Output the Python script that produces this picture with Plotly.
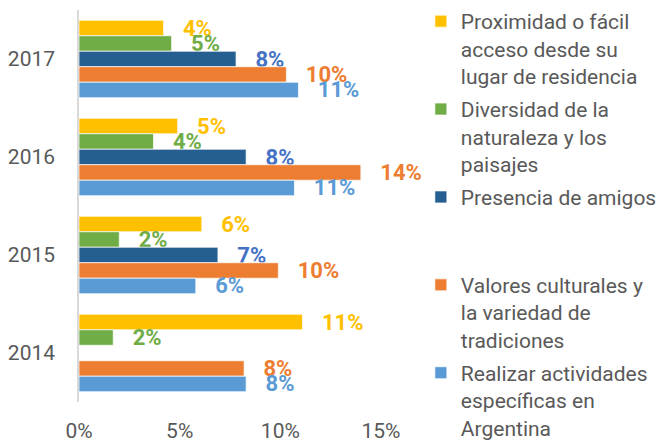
import plotly.graph_objects as go

years = ["2017", "2016", "2015", "2014"]

series_names = [
    "Proximidad o fácil<br>acceso desde su<br>lugar de residencia",
    "Diversidad de la<br>naturaleza y los<br>paisajes",
    "Presencia de amigos<br>\u00a0<br>\u00a0",
    "Valores culturales y<br>la variedad de<br>tradiciones",
    "Realizar actividades<br>específicas en<br>Argentina",
]

proximidad = [0.042, 0.049, 0.061, 0.111]
diversidad = [0.046, 0.037, 0.020, 0.017]
amigos = [0.078, 0.083, 0.069, None]
valores = [0.103, 0.140, 0.099, 0.082]
actividades = [0.109, 0.107, 0.058, 0.083]

bar_colors = ["#FFC000", "#70AD47", "#255E91", "#ED7D31", "#5B9BD5"]
label_colors = ["#FFC000", "#70AD47", "#4472C4", "#ED7D31", "#5B9BD5"]

values = [proximidad, diversidad, amigos, valores, actividades]

fig = go.Figure()
for i in range(5):
    vals = values[i]
    texts = ["" if v is None else "\u00a0\u00a0\u00a0%d%%" % round(v * 100) for v in vals]
    fig.add_trace(go.Bar(
        y=years, x=vals, orientation="h", name=series_names[i],
        legendgroup="g%d" % i,
        marker=dict(color=bar_colors[i], line=dict(color="white", width=0.7)),
        text=texts, textposition="outside", constraintext="none",
        textfont=dict(family="Roboto", size=22, color=label_colors[i], weight="bold"),
        cliponaxis=False,
    ))

# page body has an 8px margin: figure is 656x436 so it fits the 664x444 window
fig.update_layout(
    width=656, height=436,
    margin=dict(l=71, r=283, t=2, b=42, autoexpand=False),
    paper_bgcolor="white", plot_bgcolor="white",
    barmode="group", bargap=0.21, bargroupgap=0,
    font=dict(family="Roboto", size=21, color="#595959"),
    showlegend=True,
    legend=dict(
        x=1.132, xanchor="left", y=1.023, yanchor="top",
        traceorder="grouped", valign="top",
        font=dict(family="Roboto", size=21, color="#595959"),
        bgcolor="rgba(0,0,0,0)", tracegroupgap=3,
        maxheight=700,
    ),
    xaxis=dict(
        range=[0, 0.15], tickvals=[0, 0.05, 0.10, 0.15],
        ticktext=["0%", "5%", "10%", "15%"],
        showgrid=False, zeroline=False, showline=False,
        ticks="", ticklabelstandoff=14,
        tickfont=dict(family="Roboto", size=21, color="#595959"),
    ),
    yaxis=dict(
        type="category", categoryorder="array", categoryarray=years,
        autorange="reversed",
        showgrid=False, zeroline=False, showline=True,
        linecolor="#D9D9D9", linewidth=1.5,
        ticks="", ticklabelstandoff=18,
        tickfont=dict(family="Roboto", size=21, color="#595959"),
    ),
)

fig.write_html("out.html")
